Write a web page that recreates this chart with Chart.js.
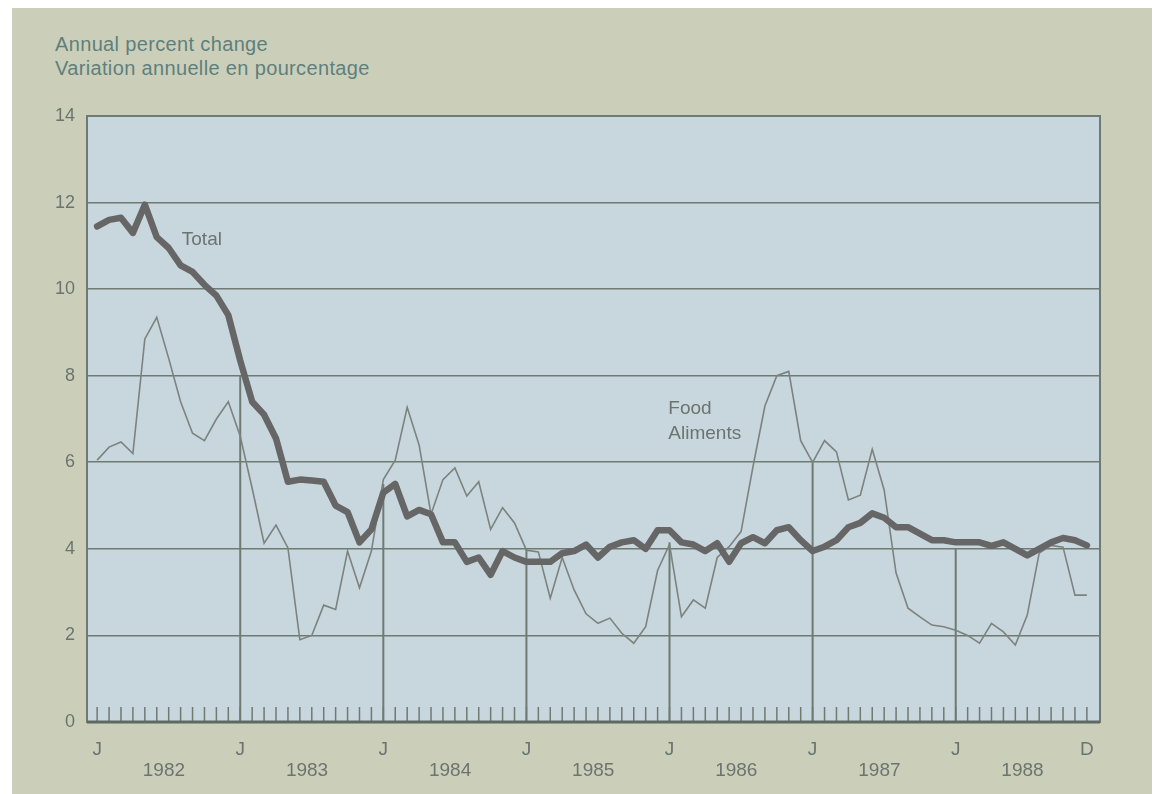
<!DOCTYPE html>
<html>
<head>
<meta charset="utf-8">
<script src="https://cdn.jsdelivr.net/npm/chart.js@4.4.0/dist/chart.umd.min.js"></script>
<style>
  html, body { margin: 0; padding: 0; background: #fff; }
  body { width: 1162px; height: 794px; position: relative; overflow: hidden; font-family: "Liberation Sans", Arial, sans-serif; }
  #panel { position: absolute; left: 12px; top: 8px; width: 1140px; height: 786px; background: #cbcfba; }
  #units { position: absolute; left: 55px; top: 32px; color: #5f7f7d; font-size: 20px; letter-spacing: 0.35px; line-height: 24px; }
  #wrap { position: absolute; left: 0; top: 0; width: 1162px; height: 794px; }
</style>
</head>
<body>
<div id="panel"></div>
<div id="units">Annual percent change<br>Variation annuelle en pourcentage</div>
<div id="wrap"><canvas id="chart" width="1162" height="794"></canvas></div>
<script>
// monthly series, Jan 1982 .. Dec 1988
const years = ['1982', '1983', '1984', '1985', '1986', '1987', '1988'];

const total = [
    11.45, 11.6, 11.65, 11.3, 11.95, 11.2, 10.95, 10.55, 10.4, 10.1, 9.85, 9.4,
    8.35, 7.4, 7.1, 6.55, 5.55, 5.6, 5.58, 5.55, 5.0, 4.85, 4.15, 4.45,
    5.3, 5.5, 4.75, 4.9, 4.8, 4.15, 4.15, 3.7, 3.8, 3.4, 3.95, 3.8,
    3.7, 3.7, 3.7, 3.9, 3.95, 4.1, 3.8, 4.05, 4.15, 4.2, 4.0, 4.43,
    4.43, 4.15, 4.1, 3.95, 4.13, 3.7, 4.13, 4.27, 4.13, 4.43, 4.5, 4.2,
    3.95, 4.05, 4.2, 4.5, 4.6, 4.82, 4.72, 4.5, 4.5, 4.35, 4.2, 4.2,
    4.15, 4.15, 4.15, 4.07, 4.15, 4.0, 3.85, 4.0, 4.15, 4.25, 4.2, 4.08
];

const food = [
    6.05, 6.35, 6.47, 6.2, 8.85, 9.35, 8.4, 7.4, 6.67, 6.5, 7.0, 7.4,
    6.6, 5.4, 4.13, 4.55, 4.02, 1.9, 2.0, 2.7, 2.6, 3.95, 3.1, 3.95,
    5.6, 6.05, 7.27, 6.4, 4.8, 5.6, 5.87, 5.22, 5.55, 4.45, 4.95, 4.6,
    3.97, 3.93, 2.86, 3.8, 3.05, 2.5, 2.28, 2.4, 2.05, 1.82, 2.2, 3.5,
    4.1, 2.43, 2.82, 2.63, 3.8, 4.05, 4.4, 5.9, 7.3, 8.0, 8.1, 6.5,
    6.0, 6.5, 6.24, 5.13, 5.24, 6.3, 5.36, 3.44, 2.63, 2.43, 2.24, 2.2,
    2.12, 2.0, 1.82, 2.28, 2.08, 1.78, 2.47, 3.9, 4.08, 4.04, 2.93, 2.93
];

const yTicks = [0, 2, 4, 6, 8, 10, 12, 14];
const monthLetters = ['J', 'J', 'J', 'J', 'J', 'J', 'J', 'D'];
const letterMonths = [0, 12, 24, 36, 48, 60, 72, 83];
const janMonths = [12, 24, 36, 48, 60, 72];
const janRuleTops = [8, 5.5, 4, 4.15, 6, 4];   // January rules stop here

const gridCol = '#6f7a72';
const textCol = '#6c7470';

const toPoints = arr => arr.map((v, i) => ({ x: i, y: v }));

// month letters on the first line, year names on the second, one shared axis
const bottomTicks = [
    ...letterMonths.map((m, i) => ({ value: m, label: monthLetters[i] })),
    ...years.map((yr, i) => ({ value: 5.6 + 12 * i, label: ['', yr] }))
].sort((a, b) => a.value - b.value);

// plot background, month ticks, January rules, frame and series labels
const decor = {
    id: 'decor',
    beforeDraw(chart) {
        const { ctx, chartArea: a } = chart;
        ctx.save();
        ctx.fillStyle = '#c8d6de';
        ctx.fillRect(a.left, a.top, a.right - a.left, a.bottom - a.top);
        ctx.restore();
    },
    beforeDatasetsDraw(chart) {
        const { ctx, chartArea: a, scales: { x, y } } = chart;
        ctx.save();
        ctx.strokeStyle = gridCol;
        ctx.lineWidth = 1.5;
        const y0 = y.getPixelForValue(0);
        for (let m = 0; m < total.length; m++) {
            const px = x.getPixelForValue(m);
            ctx.beginPath();
            ctx.moveTo(px, y0);
            ctx.lineTo(px, y0 - 15);
            ctx.stroke();
        }
        ctx.lineWidth = 2;
        janMonths.forEach((m, i) => {
            const px = x.getPixelForValue(m);
            ctx.beginPath();
            ctx.moveTo(px, y0);
            ctx.lineTo(px, y.getPixelForValue(janRuleTops[i]));
            ctx.stroke();
        });
        // frame
        ctx.lineWidth = 2;
        ctx.strokeRect(a.left, a.top, a.right - a.left, a.bottom - a.top);
        ctx.lineWidth = 3;
        ctx.strokeStyle = '#5f6963';
        ctx.beginPath();
        ctx.moveTo(a.left, a.bottom);
        ctx.lineTo(a.right, a.bottom);
        ctx.stroke();
        ctx.restore();
    },
    afterDatasetsDraw(chart) {
        const { ctx, scales: { x, y } } = chart;
        ctx.save();
        ctx.fillStyle = textCol;
        ctx.font = '19px "Liberation Sans", Arial, sans-serif';
        ctx.textBaseline = 'middle';
        ctx.textAlign = 'left';
        ctx.fillText('Total', x.getPixelForValue(7.1), y.getPixelForValue(11.13));
        ctx.fillText('Food', x.getPixelForValue(47.9), y.getPixelForValue(7.23));
        ctx.fillText('Aliments', x.getPixelForValue(47.9), y.getPixelForValue(6.67));
        ctx.restore();
    }
};

const ctx = document.getElementById('chart').getContext('2d');
new Chart(ctx, {
    type: 'line',
    data: {
        datasets: [{
            label: 'Total',
            data: toPoints(total),
            borderColor: '#666666',
            borderWidth: 6.5,
            borderJoinStyle: 'round',
            borderCapStyle: 'round',
            pointRadius: 0,
            tension: 0,
            order: 0
        }, {
            label: 'Food',
            data: toPoints(food),
            borderColor: '#7c837f',
            borderWidth: 1.6,
            pointRadius: 0,
            tension: 0,
            order: 1
        }]
    },
    options: {
        responsive: false,
        animation: false,
        layout: { padding: { top: 116, right: 62, bottom: 0, left: 0 } },
        plugins: { legend: { display: false }, tooltip: { enabled: false } },
        scales: {
            x: {
                type: 'linear',
                position: 'bottom',
                min: -0.85,
                max: 84.1,
                afterBuildTicks: s => { s.ticks = bottomTicks.map(t => ({ value: t.value })); },
                afterFit: s => { s.height = 72; },
                grid: { display: false, drawTicks: false },
                border: { display: false },
                ticks: {
                    autoSkip: false,
                    maxRotation: 0,
                    padding: 17,
                    color: textCol,
                    font: { size: 19, lineHeight: '21px', family: '"Liberation Sans", Arial, sans-serif' },
                    callback: (v, i) => bottomTicks[i].label
                }
            },
            y: {
                min: 0,
                max: 14,
                afterBuildTicks: s => { s.ticks = yTicks.map(v => ({ value: v })); },
                afterFit: s => { s.width = 87; },
                grid: { color: gridCol, lineWidth: 1.6, drawTicks: false },
                border: { display: false },
                ticks: {
                    padding: 12,
                    color: textCol,
                    font: { size: 18, family: '"Liberation Sans", Arial, sans-serif' }
                }
            }
        }
    },
    plugins: [decor]
});
</script>
</body>
</html>
